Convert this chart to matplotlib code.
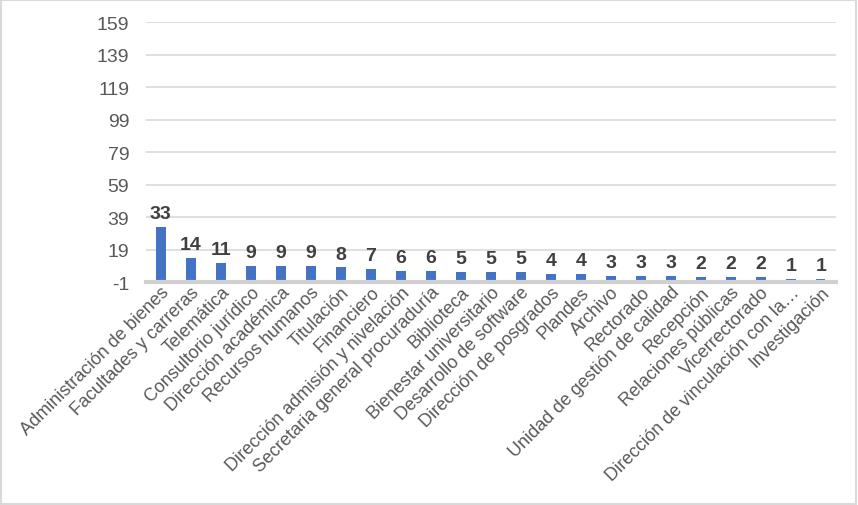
import matplotlib
matplotlib.use("Agg")
import matplotlib.pyplot as plt
import numpy as np

categories = [
    "Administración de bienes", "Facultades y carreras", "Telemática",
    "Consultorio jurídico", "Dirección académica", "Recursos humanos",
    "Titulación", "Financiero", "Dirección admisión y nivelación",
    "Secretaria general procuraduría", "Biblioteca", "Bienestar universitario",
    "Desarrollo de software", "Dirección de posgrados", "Plandes", "Archivo",
    "Rectorado", "Unidad de gestión de calidad", "Recepción",
    "Relaciones públicas", "Vicerrectorado", "Dirección de vinculación con la…",
    "Investigación",
]
values = [33, 14, 11, 9, 9, 9, 8, 7, 6, 6, 5, 5, 5, 4, 4, 3, 3, 3, 2, 2, 2, 1, 1]
yticks = [-1, 19, 39, 59, 79, 99, 119, 139, 159]

plt.rcParams["font.family"] = ["Liberation Sans Narrow", "Liberation Sans", "DejaVu Sans"]

BAR = "#4472C4"
GRID = "#d9d9d9"
TEXT = "#595959"

fig = plt.figure(figsize=(8.58, 5.06), dpi=100)
ax = fig.add_axes([0.170, 0.4407, 0.804, 0.5138])

x = np.arange(len(categories))
ax.bar(x, values, width=0.32, color=BAR, zorder=2)
for xi, v in zip(x, values):
    ax.text(xi, v + 3, str(v), ha="center", va="bottom", fontsize=14,
            fontweight="bold", color="#404040")

ax.set_xlim(-0.5, len(categories) - 0.5)
ax.set_ylim(-1, 159)
ax.set_yticks(yticks)
ax.set_yticklabels([str(t) for t in yticks], fontsize=14, color=TEXT)
ax.yaxis.grid(True, color=GRID, linewidth=1.2, zorder=0)
ax.axhline(-1, color="#d0d0d0", linewidth=3, zorder=3, clip_on=False)
ax.tick_params(axis="y", length=0, pad=12)
ax.tick_params(axis="x", length=0, pad=1)
ax.set_xticks(x)
ax.set_xticklabels(categories, rotation=45, ha="right", rotation_mode="anchor",
                   fontsize=13, color=TEXT)
for s in ax.spines.values():
    s.set_visible(False)

fig.patches.append(plt.Rectangle((0.001, 0.002), 0.997, 0.996, transform=fig.transFigure,
                                 fill=False, edgecolor="#d9d9d9", linewidth=1.5))
fig.savefig("out.png", dpi=100)
